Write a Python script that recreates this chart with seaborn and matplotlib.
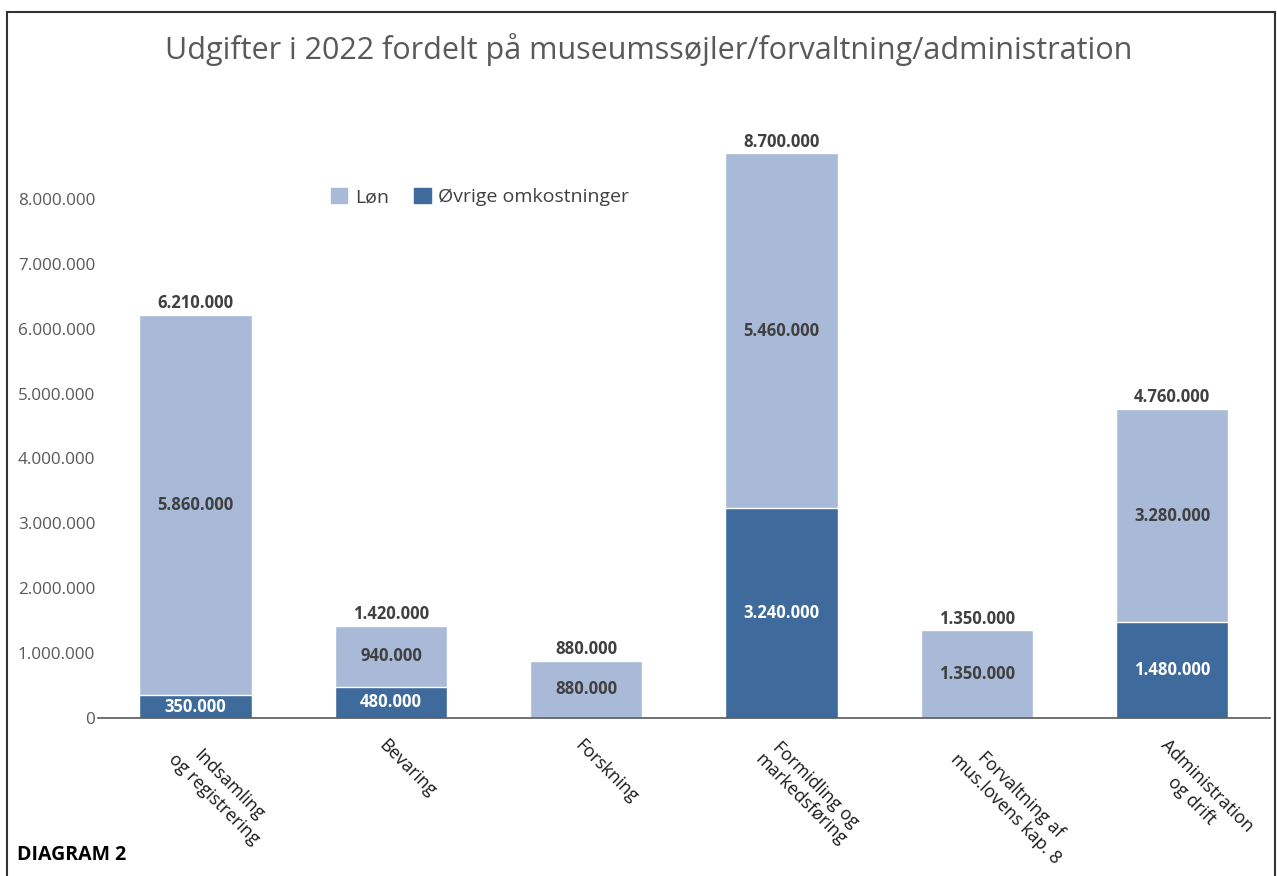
import matplotlib
matplotlib.use("Agg")
import matplotlib.pyplot as plt
import seaborn as sns
import pandas as pd
from matplotlib.patches import Patch, Rectangle
from matplotlib.ticker import FuncFormatter

categories = ["Indsamling\nog registrering", "Bevaring", "Forskning",
              "Formidling og\nmarkedsføring", "Forvaltning af\nmus.lovens kap. 8",
              "Administration\nog drift"]
loen = [5860000, 940000, 880000, 5460000, 1350000, 3280000]
oevrige = [350000, 480000, 0, 3240000, 0, 1480000]

light = "#a9b9d8"
dark = "#3f6a9c"

sns.set_theme(style="white")
plt.rcParams["font.family"] = ["Open Sans", "DejaVu Sans"]

df = pd.DataFrame({"kategori": categories, "Løn": loen, "Øvrige": oevrige})
df["total"] = df["Løn"] + df["Øvrige"]

fig = plt.figure(figsize=(12.77, 8.76), dpi=100)
ax = fig.add_axes([0.0767, 0.1804, 0.9178, 0.6666])

sns.barplot(data=df, x="kategori", y="total", color=light, width=0.575,
            saturation=1, ax=ax)
sns.barplot(data=df, x="kategori", y="Øvrige", color=dark, width=0.575,
            saturation=1, ax=ax)

ax.set_xlim(-0.5, 5.5)
ax.set_ylim(0, 9000000)
ax.set_yticks(range(0, 9000000, 1000000))
fmt = FuncFormatter(lambda v, p: f"{int(v):,}".replace(",", "."))
ax.yaxis.set_major_formatter(fmt)
ax.tick_params(axis="y", length=0, labelsize=12.3, labelcolor="#595959", pad=2)
ax.tick_params(axis="x", length=0)
ax.set_xlabel("")
ax.set_ylabel("")
for s in ["top", "right", "left"]:
    ax.spines[s].set_visible(False)
ax.spines["bottom"].set_color("#595959")
ax.spines["bottom"].set_linewidth(1.2)

ax.set_xticks(range(len(categories)))
ax.set_xticklabels([])
for i, lab in enumerate(categories):
    ax.annotate(lab, xy=(i, 0), xytext=(-2, -13), textcoords="offset points",
                rotation=-45, ha="left", va="top", rotation_mode="anchor",
                multialignment="center", fontsize=12.8, color="#1a1a1a",
                annotation_clip=False)

# value labels
for i, row in df.iterrows():
    ax.annotate(f"{row['total']:,}".replace(",", "."), xy=(i, row["total"]),
                xytext=(0, 2), textcoords="offset points", ha="center", va="bottom",
                fontsize=12, fontweight="bold", color="#404040")
    if row["Øvrige"] > 0:
        ax.text(i, row["Øvrige"] / 2, f"{row['Øvrige']:,}".replace(",", "."),
                ha="center", va="center", fontsize=12, fontweight="bold",
                color="white")
    ax.text(i, row["Øvrige"] + row["Løn"] / 2, f"{row['Løn']:,}".replace(",", "."),
            ha="center", va="center", fontsize=12, fontweight="bold",
            color="#404040")

handles = [Patch(color=light, label="Løn"), Patch(color=dark, label="Øvrige omkostninger")]
ax.legend(handles=handles, loc="center", bbox_to_anchor=(0.326, 0.892), ncol=2,
          frameon=False, fontsize=14, handlelength=0.85, handleheight=0.85,
          handletextpad=0.4, columnspacing=1.3, labelcolor="#404040")

fig.text(0.508, 0.944, "Udgifter i 2022 fordelt på museumssøjler/forvaltning/administration",
         ha="center", va="center", fontsize=22, color="#595959")
fig.text(0.013, 0.012, "DIAGRAM 2", ha="left", va="bottom", fontsize=14,
         fontweight="bold", color="black")

fig.add_artist(Rectangle((7 / 1277, -0.05), (1275 - 7) / 1277, 0.05 + (876 - 12) / 876,
                         transform=fig.transFigure, fill=False, edgecolor="#333333",
                         linewidth=1.5, clip_on=False))

fig.savefig("out.png", dpi=100)
